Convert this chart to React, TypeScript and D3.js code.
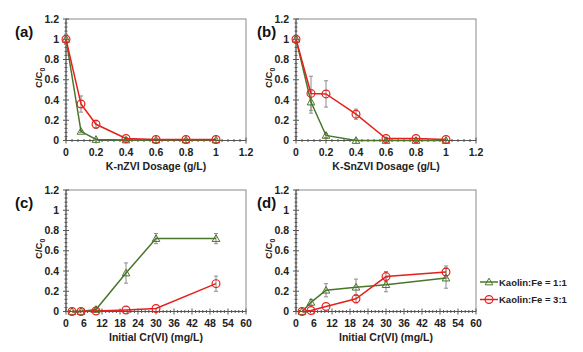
import React from "react";
import * as d3 from "d3";

const dosageX = [0, 0.1, 0.2, 0.4, 0.6, 0.8, 1];
const concX = [2, 5, 10, 20, 30, 50];

const aGreen = [1, 0.09, 0.01, 0.005, 0.005, 0.005, 0.005];
const aGreenErr = [0.05, 0.01, 0.01, 0, 0, 0, 0];
const aRed = [1, 0.36, 0.16, 0.02, 0.01, 0.01, 0.01];
const aRedErr = [0.02, 0.08, 0.04, 0.01, 0, 0, 0];

const bGreen = [1, 0.38, 0.05, 0.0, 0.0, 0.0, 0.0];
const bGreenErr = [0.03, 0.11, 0.02, 0, 0, 0, 0];
const bRed = [1, 0.465, 0.46, 0.26, 0.02, 0.02, 0.01];
const bRedErr = [0.02, 0.17, 0.13, 0.05, 0.01, 0, 0];

const cGreen = [0, 0, 0.02, 0.38, 0.72, 0.72];
const cGreenErr = [0, 0, 0.01, 0.1, 0.05, 0.05];
const cRed = [0, 0, 0.005, 0.015, 0.03, 0.275];
const cRedErr = [0, 0, 0, 0, 0, 0.075];

const dGreen = [0, 0.09, 0.21, 0.24, 0.265, 0.33];
const dGreenErr = [0, 0.03, 0.065, 0.08, 0.07, 0.1];
const dRed = [0, 0.01, 0.05, 0.125, 0.345, 0.39];
const dRedErr = [0, 0, 0, 0.04, 0.05, 0.06];

const dosageTicks = [0, 0.2, 0.4, 0.6, 0.8, 1, 1.2];
const concTicks = [0, 6, 12, 18, 24, 30, 36, 42, 48, 54, 60];
const yTicks = [0, 0.2, 0.4, 0.6, 0.8, 1, 1.2];

const legendLabels = ["Kaolin:Fe = 1:1", "Kaolin:Fe = 3:1"];

const GREEN = "#4a7629";
const RED = "#e4211c";
const ERR = "#8c8c8c";
const AXIS = "#555";
const FONT = "Liberation Sans, Arial, sans-serif";

type PanelProps = {
  label: string;
  left: number;
  top: number;
  width: number;
  height: number;
  xs: number[];
  green: number[];
  greenErr: number[];
  red: number[];
  redErr: number[];
  xTicks: number[];
  xMax: number;
  xTitle: string;
  labelX: number;
};

function Triangle({ x, y }: { x: number; y: number }) {
  const s = 3.8;
  return (
    <path
      d={`M${x},${y - s} L${x + s},${y + s * 0.75} L${x - s},${y + s * 0.75} Z`}
      fill="none"
      stroke={GREEN}
      strokeWidth={1}
    />
  );
}

function Circle({ x, y }: { x: number; y: number }) {
  return <circle cx={x} cy={y} r={3.9} fill="none" stroke={RED} strokeWidth={1.2} />;
}

function Panel(p: PanelProps) {
  const x = d3.scaleLinear().domain([0, p.xMax]).range([p.left, p.left + p.width]);
  const y = d3.scaleLinear().domain([0, 1.2]).range([p.top + p.height, p.top]);
  const line = d3
    .line<[number, number]>()
    .x((d) => x(d[0]))
    .y((d) => y(d[1]));
  const gPts = p.xs.map((v, i) => [v, p.green[i]] as [number, number]);
  const rPts = p.xs.map((v, i) => [v, p.red[i]] as [number, number]);
  const xStep = p.xTicks[1] - p.xTicks[0];
  const xMinor: number[] = [];
  for (let i = 0; i < p.xTicks.length - 1; i++)
    for (let k = 1; k < 5; k++) xMinor.push(p.xTicks[i] + (xStep * k) / 5);
  const yMinor: number[] = [];
  for (let i = 0; i < yTicks.length - 1; i++)
    for (let k = 1; k < 5; k++) yMinor.push(yTicks[i] + (0.2 * k) / 5);
  const bottom = p.top + p.height;
  const fmt = (v: number) => String(+v.toFixed(1));
  const errBars = (vals: number[], errs: number[], key: string) =>
    p.xs.map((v, i) =>
      errs[i] > 0.005 ? (
        <g key={key + i} stroke={ERR} strokeWidth={1}>
          <line x1={x(v)} x2={x(v)} y1={y(vals[i] + errs[i])} y2={y(Math.max(vals[i] - errs[i], 0))} />
          <line x1={x(v) - 2} x2={x(v) + 2} y1={y(vals[i] + errs[i])} y2={y(vals[i] + errs[i])} />
          <line
            x1={x(v) - 2}
            x2={x(v) + 2}
            y1={y(Math.max(vals[i] - errs[i], 0))}
            y2={y(Math.max(vals[i] - errs[i], 0))}
          />
        </g>
      ) : null
    );
  return (
    <g fontFamily={FONT}>
      <rect x={p.left} y={p.top} width={p.width} height={p.height} fill="none" stroke="#8a8a8a" strokeWidth={1} />
      <line x1={p.left} x2={p.left + p.width} y1={bottom} y2={bottom} stroke={AXIS} strokeWidth={1} />
      <line x1={p.left} x2={p.left} y1={p.top} y2={bottom} stroke={AXIS} strokeWidth={1} />
      {p.xTicks.map((t) => (
        <line key={"xt" + t} x1={x(t)} x2={x(t)} y1={bottom - 3} y2={bottom + 3} stroke={AXIS} />
      ))}
      {xMinor.map((t, i) => (
        <line key={"xm" + i} x1={x(t)} x2={x(t)} y1={bottom - 1.5} y2={bottom + 1.5} stroke={AXIS} />
      ))}
      {yTicks.map((t) => (
        <line key={"yt" + t} x1={p.left - 3} x2={p.left + 3} y1={y(t)} y2={y(t)} stroke={AXIS} />
      ))}
      {yMinor.map((t, i) => (
        <line key={"ym" + i} x1={p.left - 1.5} x2={p.left + 1.5} y1={y(t)} y2={y(t)} stroke={AXIS} />
      ))}
      {p.xTicks.map((t) => (
        <text key={"xl" + t} x={x(t)} y={bottom + 15.5} textAnchor="middle" fontSize={10.5} fontWeight="bold" fill="#222">
          {fmt(t)}
        </text>
      ))}
      {yTicks.map((t) => (
        <text key={"yl" + t} x={p.left - 7} y={y(t) + 3.7} textAnchor="end" fontSize={10.5} fontWeight="bold" fill="#222">
          {fmt(t)}
        </text>
      ))}
      <text
        transform={`translate(${p.left - 24},${p.top + p.height / 2 - 2}) rotate(-90)`}
        textAnchor="middle"
        fontSize={9.5}
        fontWeight="bold"
        fill="#222"
      >
        C/C<tspan fontSize={7} dy={3}>0</tspan>
      </text>
      <text x={p.left + p.width / 2} y={bottom + 29} textAnchor="middle" fontSize={10.5} fontWeight="bold" fill="#222">
        {p.xTitle}
      </text>
      <text x={p.labelX} y={p.top + 18} fontSize={15} fontWeight="bold" fill="#111">
        {p.label}
      </text>
      {errBars(p.green, p.greenErr, "ge")}
      {errBars(p.red, p.redErr, "re")}
      <path d={line(gPts) || ""} fill="none" stroke={GREEN} strokeWidth={1.5} />
      <path d={line(rPts) || ""} fill="none" stroke={RED} strokeWidth={1.5} />
      {gPts.map((d, i) => (
        <Triangle key={"gt" + i} x={x(d[0])} y={y(d[1])} />
      ))}
      {rPts.map((d, i) => (
        <Circle key={"rc" + i} x={x(d[0])} y={y(d[1])} />
      ))}
    </g>
  );
}

export default function App() {
  const W = 583;
  const H = 352;
  const pw = 180;
  const ph = 121.5;
  return (
    <svg
      width={W}
      height={H}
      style={{ position: "absolute", left: 0, top: 0, background: "#fff" }}
    >
      <rect width={W} height={H} fill="#fff" />
      <Panel label="(a)" left={66} top={19} width={pw} height={ph} xs={dosageX} green={aGreen} greenErr={aGreenErr}
        red={aRed} redErr={aRedErr} xTicks={dosageTicks} xMax={1.2} xTitle="K-nZVI Dosage (g/L)" labelX={15} />
      <Panel label="(b)" left={296} top={19} width={pw} height={ph} xs={dosageX} green={bGreen} greenErr={bGreenErr}
        red={bRed} redErr={bRedErr} xTicks={dosageTicks} xMax={1.2} xTitle="K-SnZVI Dosage (g/L)" labelX={257} />
      <Panel label="(c)" left={66} top={190} width={pw} height={ph} xs={concX} green={cGreen} greenErr={cGreenErr}
        red={cRed} redErr={cRedErr} xTicks={concTicks} xMax={60} xTitle="Initial Cr(VI) (mg/L)" labelX={15} />
      <Panel label="(d)" left={296} top={190} width={pw} height={ph} xs={concX} green={dGreen} greenErr={dGreenErr}
        red={dRed} redErr={dRedErr} xTicks={concTicks} xMax={60} xTitle="Initial Cr(VI) (mg/L)" labelX={257} />
      <g fontFamily={FONT}>
        {legendLabels.map((l, i) => {
          const ly = 282 + i * 17.5;
          return (
            <g key={l}>
              <line x1={480} x2={498} y1={ly} y2={ly} stroke={i === 0 ? GREEN : RED} strokeWidth={1.5} />
              {i === 0 ? <Triangle x={489} y={ly} /> : <Circle x={489} y={ly} />}
              <text x={499} y={ly + 3.5} fontSize={9.5} fontWeight="bold" fill="#222">
                {l}
              </text>
            </g>
          );
        })}
      </g>
    </svg>
  );
}
